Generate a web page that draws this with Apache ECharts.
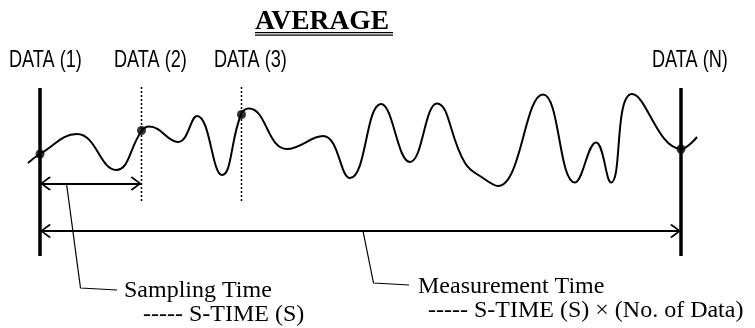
<!DOCTYPE html>
<html>
<head>
<meta charset="utf-8">
<script src="https://cdn.jsdelivr.net/npm/echarts@6/dist/echarts.min.js"></script>
<style>html,body{margin:0;padding:0;background:#fff}#c{width:755px;height:328px}</style>
</head>
<body>
<div id="c"></div>
<script>
// Diagram coordinate system: x = time position, y = signal level (downwards)
const waveX = [28, 40, 77, 116, 142, 149, 178, 197, 222, 241, 249, 287, 323, 350, 381, 410, 437, 465, 483, 498, 543, 575, 596, 611, 632, 681, 697];
const waveY = [163, 154, 134, 170, 130.5, 126.5, 142, 116, 175, 114.5, 108.5, 149, 136, 178, 104, 162, 103.5, 163, 178, 186, 94.5, 182.5, 142.5, 182.5, 94, 149, 137];
const sampleX = [40, 141.5, 241.5, 681];
const sampleY = [154, 130.5, 114.5, 149];
const sampleLabels = ['DATA (1)', 'DATA (2)', 'DATA (3)', 'DATA (N)'];
const titleText = 'AVERAGE';
const samplingText = ['Sampling Time', '----- S-TIME (S)'];
const measureText = ['Measurement Time', '----- S-TIME (S) × (No. of Data)'];

const chart = echarts.init(document.getElementById('c'), null, {renderer: 'canvas'});
const BLACK = '#000';
const serif = '"Liberation Serif", "Times New Roman", serif';
const sans = '"Liberation Sans", Arial, sans-serif';

const chevron = 'path://M50,0 L50.01,0 Z M50,50 L100,92 L93,100 L50,62 L7,100 L0,92 Z';

function seg(points, style) {
  return Object.assign({
    type: 'line', data: points, symbol: 'none', silent: true, animation: false,
    lineStyle: {color: BLACK, width: 1}
  }, style || {});
}

const series = [];
// wave
series.push({
  type: 'line', data: waveX.map((x, i) => [x, waveY[i]]), smooth: 0.45,
  symbol: 'none', lineStyle: {color: BLACK, width: 2}, animation: false, silent: true, z: 3
});
// thick solid bounds at first and last sample
[0, 3].forEach(i => series.push(seg([[sampleX[i], 88], [sampleX[i], 256]], {lineStyle: {color: BLACK, width: 3.5}})));
// dotted sample guides
[1, 2].forEach(i => series.push(seg([[sampleX[i], 87], [sampleX[i], 203]], {lineStyle: {color: BLACK, width: 1.5, type: [2, 2]}})));
// sample dots
series.push({
  type: 'scatter', data: sampleX.map((x, i) => [x, sampleY[i]]), symbolSize: 9,
  itemStyle: {color: BLACK}, z: 5, silent: true, animation: false
});
// arrows
series.push({
  type: 'line', data: [], silent: true, animation: false,
  markLine: {
    silent: true, animation: false, symbol: [chevron, chevron], symbolSize: [14, 22],
    label: {show: false}, lineStyle: {color: BLACK, width: 2, type: 'solid'},
    data: [
      [{coord: [sampleX[0], 183.5]}, {coord: [sampleX[1], 183.5]}],
      [{coord: [sampleX[0], 231]}, {coord: [sampleX[3], 231]}]
    ]
  }
});
// leader lines
series.push(seg([[66.5, 183.5], [80.5, 288], [82.5, 290], [117, 290]], {lineStyle: {color: BLACK, width: 1.2}}));
series.push(seg([[363, 231], [373.5, 283], [375.5, 285], [409, 285]], {lineStyle: {color: BLACK, width: 1.2}}));

const graphics = [];
// title
graphics.push({type: 'text', left: 255, top: 8, style: {text: titleText, font: 'bold 27.5px ' + serif, fill: BLACK}});
graphics.push({type: 'rect', shape: {x: 255, y: 32, width: 138, height: 1.2}, style: {fill: BLACK}});
graphics.push({type: 'rect', shape: {x: 255, y: 34.6, width: 138, height: 1.2}, style: {fill: BLACK}});
// DATA labels
const labelLeft = [9, 114, 214, 652];
sampleLabels.forEach((t, i) => graphics.push({
  type: 'text', x: labelLeft[i], y: 48, scaleX: 0.74,
  style: {text: t, font: '24.5px ' + sans, fill: BLACK, textAlign: 'left', textVerticalAlign: 'top'}
}));
// annotations
graphics.push({type: 'text', x: 124, y: 279, style: {text: samplingText[0], font: '24px ' + serif, fill: BLACK}});
graphics.push({type: 'text', x: 143, y: 303, style: {text: samplingText[1], font: '24px ' + serif, fill: BLACK}});
graphics.push({type: 'text', x: 418, y: 275, style: {text: measureText[0], font: '24px ' + serif, fill: BLACK}});
graphics.push({type: 'text', x: 428, y: 299, style: {text: measureText[1], font: '24px ' + serif, fill: BLACK}});

chart.setOption({
  animation: false,
  backgroundColor: '#fff',
  grid: {left: 0, right: 0, top: 0, bottom: 0},
  xAxis: {type: 'value', min: 0, max: 755, show: false},
  yAxis: {type: 'value', min: 0, max: 328, inverse: true, show: false},
  series: series,
  graphic: graphics
});
</script>
</body>
</html>
